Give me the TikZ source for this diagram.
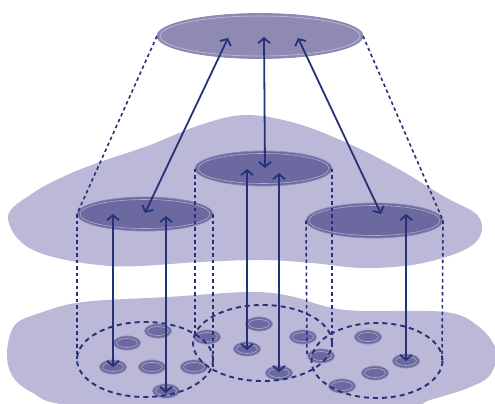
\documentclass[tikz,border=0pt]{standalone}
\usetikzlibrary{shapes.geometric,arrows.meta}
\definecolor{blobc}{HTML}{BCB8D7}
\definecolor{darkc}{HTML}{6C69A0}
\definecolor{topc}{HTML}{8E8AB4}
\definecolor{edgec}{HTML}{8C89B8}
\definecolor{linec}{HTML}{263278}
\tikzset{
  blob/.style={fill=blobc, draw=none},
  bigell/.style={ellipse, fill=darkc, draw=edgec, line width=0.8pt, inner sep=0pt, outer sep=0pt},
  dotell/.style={ellipse, fill=darkc, draw=edgec, line width=0.8pt, inner sep=0pt, outer sep=0pt, minimum width=27pt, minimum height=14pt},
  innerline/.style={draw=white, draw opacity=0.45, line width=0.6pt},
  dashv/.style={draw=linec, line width=1.6pt, dash pattern=on 3.5pt off 3pt},
  dashc/.style={draw=linec, line width=1.9pt, dash pattern=on 5pt off 4pt},
  dbl/.style={draw=linec, line width=1.8pt, {Straight Barb[length=5pt,width=12pt]}-{Straight Barb[length=5pt,width=12pt]}},
}
\begin{document}
\begin{tikzpicture}[x=1pt,y=-1pt]
\useasboundingbox (0,0) rectangle (495,404);
% blobs
\path[blob] plot[smooth cycle, tension=0.6] coordinates {
  (8,217) (33,193) (67,175) (100,162) (150,145) (200,125) (245,115) (295,123)
  (345,142) (395,167) (445,197) (475,213) (482,228) (475,243) (452,255)
  (412,265) (362,268) (312,263) (262,260) (200,262) (110,266) (33,250)};
\path[blob] plot[smooth cycle, tension=0.6] coordinates {
  (7,353) (15,325) (40,313) (83,302) (167,297) (250,292) (290,296) (328,307)
  (362,311) (445,312) (478,326) (496,350) (490,375) (468,388) (430,400)
  (390,412) (200,415) (67,405) (33,393) (13,377)};
% small ellipses
\foreach \n/\x/\y in {p1/158/331, p2/127/343, p3/113/367, p4/152/367, p5/194/367, p6/166/391,
  p7/207/337, p8/259/324, p9/247/349, p10/303/337, p11/279/373, p12/321/356,
  p13/368/337, p14/406/361, p15/375/373, p16/342/386} {
  \node[dotell] (\n) at (\x,\y) {};
  \path[innerline] (\n.center) ellipse [x radius=10.5, y radius=4.5];
}
% dashed circles
\node[ellipse, dashc, minimum width=136pt, minimum height=75pt, inner sep=0pt, outer sep=0pt] (cl) at (145,359.5) {};
\node[ellipse, dashc, minimum width=139pt, minimum height=76pt, inner sep=0pt, outer sep=0pt] (cm) at (262.5,343) {};
\node[ellipse, dashc, minimum width=131pt, minimum height=75pt, inner sep=0pt, outer sep=0pt] (cr) at (377,360.5) {};
% big ellipses
\node[bigell, fill=topc, minimum width=206pt, minimum height=45pt] (top) at (260,36) {};
\node[bigell, minimum width=137pt, minimum height=35pt] (M) at (263.5,168.5) {};
\node[bigell, minimum width=136pt, minimum height=34pt] (L) at (145,214) {};
\node[bigell, minimum width=137pt, minimum height=35pt] (R) at (374.5,220.5) {};
\foreach \n/\rx/\ry in {top/100/20, M/65.5/15, L/65/14.5, R/65.5/15}
  \path[innerline] (\n.center) ellipse [x radius=\rx, y radius=\ry];
% dashed connectors
\coordinate (lwb) at (77,359);
\coordinate (leb) at (213,367);
\coordinate (mwb) at (195,334);
\coordinate (meb) at (332,347);
\coordinate (rwb) at (307,356);
\coordinate (reb) at (442,360);
\draw[dashv] (top.west) -- (L.west);
\draw[dashv] (top.east) -- (R.east);
\draw[dashv] (L.west) -- (lwb);
\draw[dashv] (L.east) -- (leb);
\draw[dashv] (M.west) -- (mwb);
\draw[dashv] (M.east) -- (meb);
\draw[dashv] (R.west) -- (rwb);
\draw[dashv] (R.east) -- (reb);
% arrows
\coordinate (a1t) at (228,38);  \coordinate (a1b) at (145,213);
\coordinate (a2t) at (264,37);  \coordinate (a2b) at (265,168);
\coordinate (a3t) at (298,38);  \coordinate (a3b) at (381,214);
\coordinate (b1t) at (113,214); \coordinate (b1b) at (113,367);
\coordinate (b2t) at (166,216); \coordinate (b2b) at (166,393);
\coordinate (c1t) at (247,169); \coordinate (c1b) at (247,350);
\coordinate (c2t) at (279,173); \coordinate (c2b) at (279,372);
\coordinate (d1t) at (406,214); \coordinate (d1b) at (406,361);
\foreach \a in {a1,a2,a3,b1,b2,c1,c2,d1}
  \draw[dbl] (\a t) -- (\a b);
\end{tikzpicture}
\end{document}
